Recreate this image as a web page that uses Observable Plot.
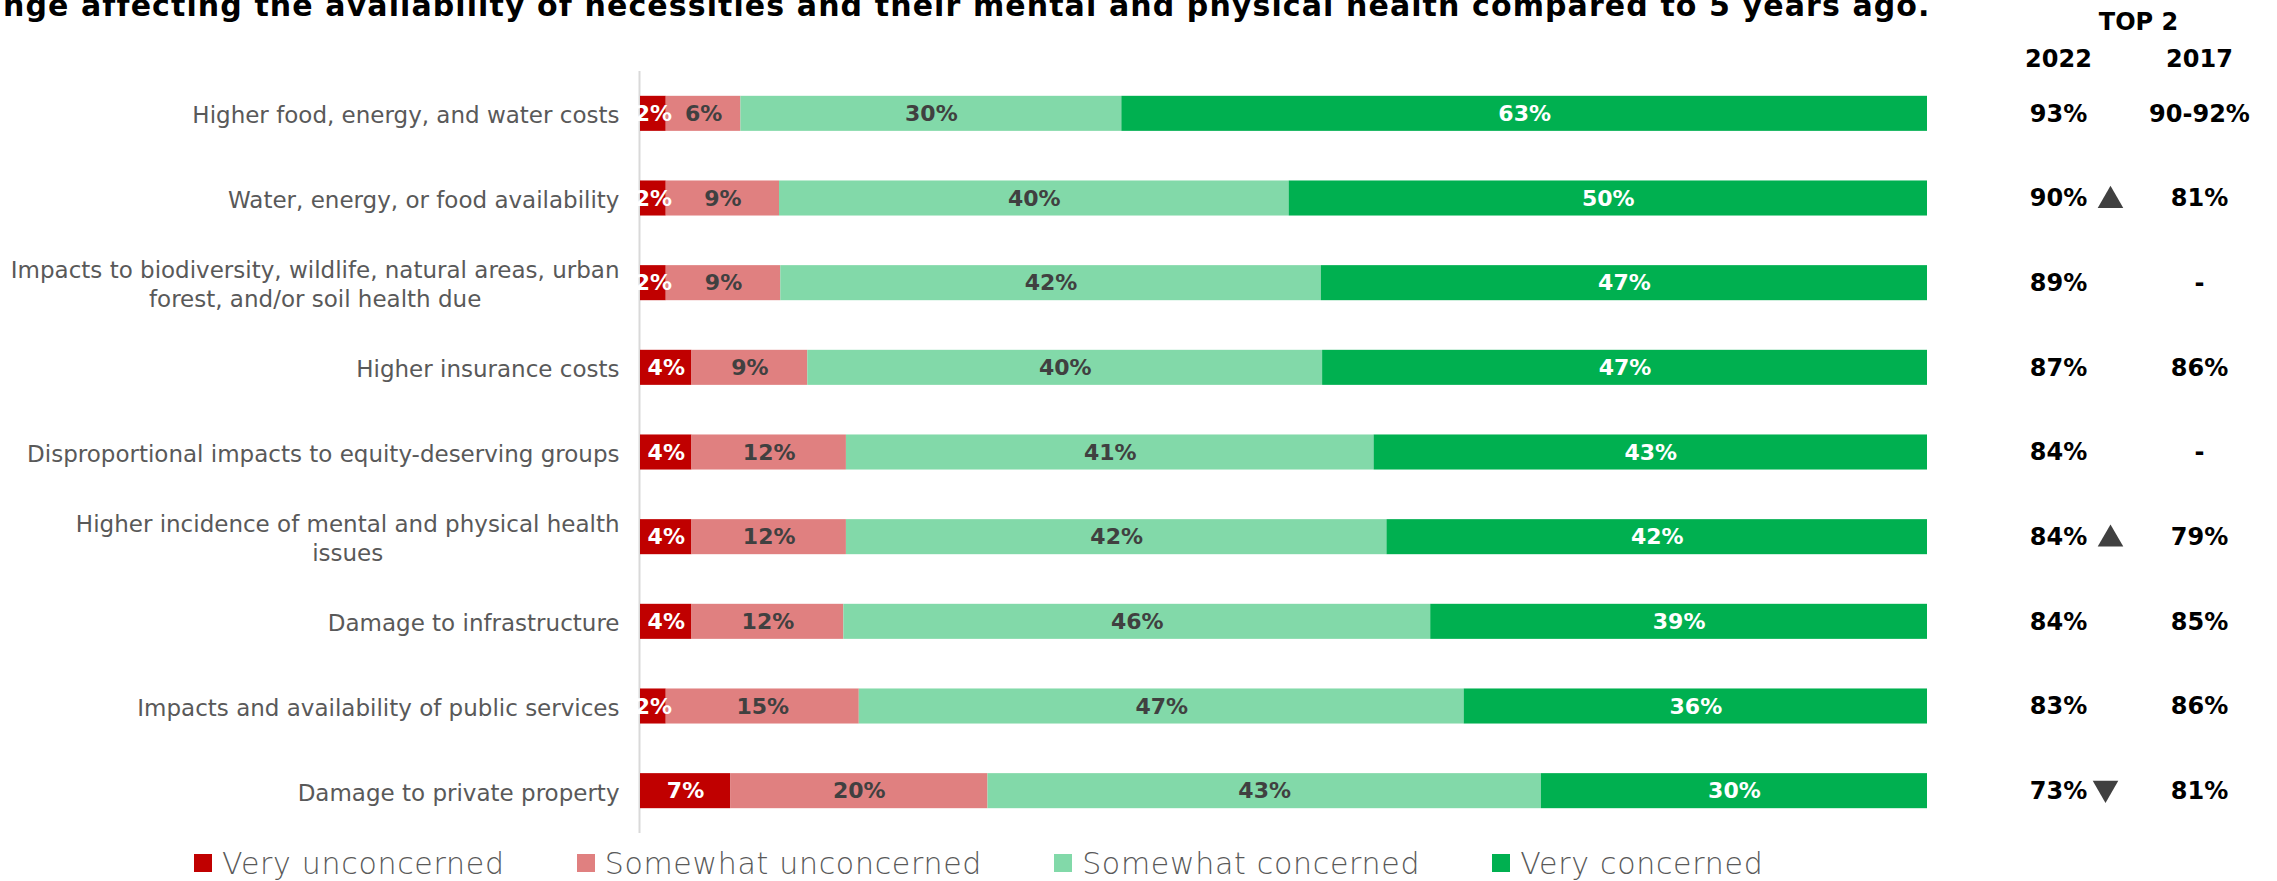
<!DOCTYPE html>
<html>
<head>
<meta charset="utf-8">
<script src="https://cdn.jsdelivr.net/npm/d3@7"></script>
<script src="https://cdn.jsdelivr.net/npm/@observablehq/plot@0.6"></script>
<style>
  html, body { margin: 0; padding: 0; background: #fff; }
  body { width: 2277px; height: 881px; overflow: hidden; position: relative; font-family: "DejaVu Sans", sans-serif; }
  #title { position: absolute; left: 3px; top: -9px; font: bold 30px/30px "DejaVu Sans", sans-serif; letter-spacing: 1.1px; color: #000; white-space: nowrap; }
  #chart svg { display: block; }
  #legend .lg-swatches { font-family: "DejaVu Sans", sans-serif; font-size: 30px; font-weight: 300; letter-spacing: 0.7px; color: #595959; margin: 0; padding-left: 194px; min-height: 36px; height: 36px; }
  #legend .lg-swatch { margin-right: 72px; }
  #legend .lg-swatch > svg { margin-right: 10px; }
</style>
</head>
<body>
<div id="chart"></div>
<div id="legend"></div>
<div id="title">nge affecting the availability of necessities and their mental and physical health compared to 5 years ago.</div>
<script>
const categories = [
  "Higher food, energy, and water costs",
  "Water, energy, or food availability",
  "Impacts to biodiversity, wildlife, natural areas, urban\nforest, and/or soil health due",
  "Higher insurance costs",
  "Disproportional impacts to equity-deserving groups",
  "Higher incidence of mental and physical health\nissues",
  "Damage to infrastructure",
  "Impacts and availability of public services",
  "Damage to private property"
];
const series = ["Very unconcerned", "Somewhat unconcerned", "Somewhat concerned", "Very concerned"];
const colors = ["#C00000", "#E08080", "#82D9A9", "#00B050"];

const veryUnconcerned     = [2.0, 2.0, 2.0, 4.0, 4.0, 4.0, 4.0, 2.0, 7.0];
const somewhatUnconcerned = [5.8, 8.8, 8.9, 9.0, 12.0, 12.0, 11.8, 15.0, 20.0];
const somewhatConcerned   = [29.6, 39.6, 42.0, 40.0, 41.0, 42.0, 45.6, 47.0, 43.0];
const veryConcerned       = [62.6, 49.6, 47.1, 47.0, 43.0, 42.0, 38.6, 36.0, 30.0];

const top2022 = ["93%", "90%", "89%", "87%", "84%", "84%", "84%", "83%", "73%"];
const top2017 = ["90-92%", "81%", "-", "86%", "-", "79%", "85%", "86%", "81%"];
const change  = ["", "up", "", "", "", "up", "", "", "down"];
const headerTop = "TOP 2";
const headerYears = ["2022", "2017"];

const seriesValues = [veryUnconcerned, somewhatUnconcerned, somewhatConcerned, veryConcerned];
const rows = categories.flatMap((c, i) => series.map((s, j) => ({category: c, series: s, value: seriesValues[j][i]})));
const whiteLabel = new Set(["Very unconcerned", "Very concerned"]);
const fmt = d => Math.round(d.value) + "%";

const right = categories.map((c, i) => ({category: c, v2022: top2022[i], v2017: top2017[i], change: change[i]}));

const plot = Plot.plot({
  width: 2277,
  height: 845,
  marginLeft: 640,
  marginRight: 350,
  marginTop: 71,
  marginBottom: 12,
  style: {fontFamily: "DejaVu Sans, sans-serif", background: "#fff", overflow: "visible"},
  x: {domain: [0, 100], axis: null},
  y: {domain: categories, paddingInner: 0.586, paddingOuter: 0.293, round: false, axis: null},
  color: {domain: series, range: colors},
  marks: [
    Plot.ruleX([0], {stroke: "#D9D9D9", strokeWidth: 2, dx: -1}),
    Plot.barX(rows, {x: "value", y: "category", fill: "series"}),
    Plot.text(rows, Plot.stackX({x: "value", y: "category", z: "series",
      text: d => whiteLabel.has(d.series) ? fmt(d) : null,
      fill: "#FFFFFF", fontWeight: "bold", fontSize: 22})),
    Plot.text(rows, Plot.stackX({x: "value", y: "category", z: "series",
      text: d => whiteLabel.has(d.series) ? null : fmt(d),
      fill: "#404040", fontWeight: "bold", fontSize: 22})),
    Plot.axisY({tickSize: 0, tickPadding: 21, fontSize: 23, fill: "#595959", lineHeight: 1.27, label: null}),
    Plot.text(right, {y: "category", text: "v2022", frameAnchor: "right", dx: 131, textAnchor: "middle",
      fontWeight: "bold", fontSize: 24, fill: "#000"}),
    Plot.text(right, {y: "category", text: "v2017", frameAnchor: "right", dx: 272, textAnchor: "middle",
      fontWeight: "bold", fontSize: 24, fill: "#000"}),
    Plot.dot(right.filter(d => d.change === "up"), {y: "category", frameAnchor: "right", dx: 183, dy: 2,
      symbol: "triangle", r: 9.5, fill: "#404040", stroke: "none"}),
    Plot.dot(right.filter(d => d.change === "down"), {y: "category", frameAnchor: "right", dx: 178, dy: -3,
      symbol: "triangle", rotate: 180, r: 9.5, fill: "#404040", stroke: "none"}),
    Plot.text([headerTop], {text: d => d, frameAnchor: "top-right", dx: 211, dy: -49, textAnchor: "middle",
      lineAnchor: "middle", fontWeight: "bold", fontSize: 24, fill: "#000"}),
    Plot.text([headerYears[0]], {text: d => d, frameAnchor: "top-right", dx: 131, dy: -12.5, textAnchor: "middle",
      lineAnchor: "middle", fontWeight: "bold", fontSize: 24, fill: "#000"}),
    Plot.text([headerYears[1]], {text: d => d, frameAnchor: "top-right", dx: 272, dy: -12.5, textAnchor: "middle",
      lineAnchor: "middle", fontWeight: "bold", fontSize: 24, fill: "#000"})
  ]
});
document.getElementById("chart").appendChild(plot);

// center multi-line category labels within their own block (as in the original)
const axisG = plot.querySelector('g[aria-label="y-axis tick label"]');
if (axisG) {
  axisG.querySelectorAll("text").forEach(t => {
    if (t.querySelectorAll("tspan").length > 1) {
      const w = t.getBBox().width;
      t.setAttribute("text-anchor", "middle");
      t.setAttribute("transform", (t.getAttribute("transform") || "") + ` translate(${-w / 2},0)`);
    }
  });
}

const legend = Plot.legend({color: {type: "ordinal", domain: series, range: colors}, swatchSize: 18, className: "lg"});
document.getElementById("legend").appendChild(legend);
</script>
</body>
</html>
